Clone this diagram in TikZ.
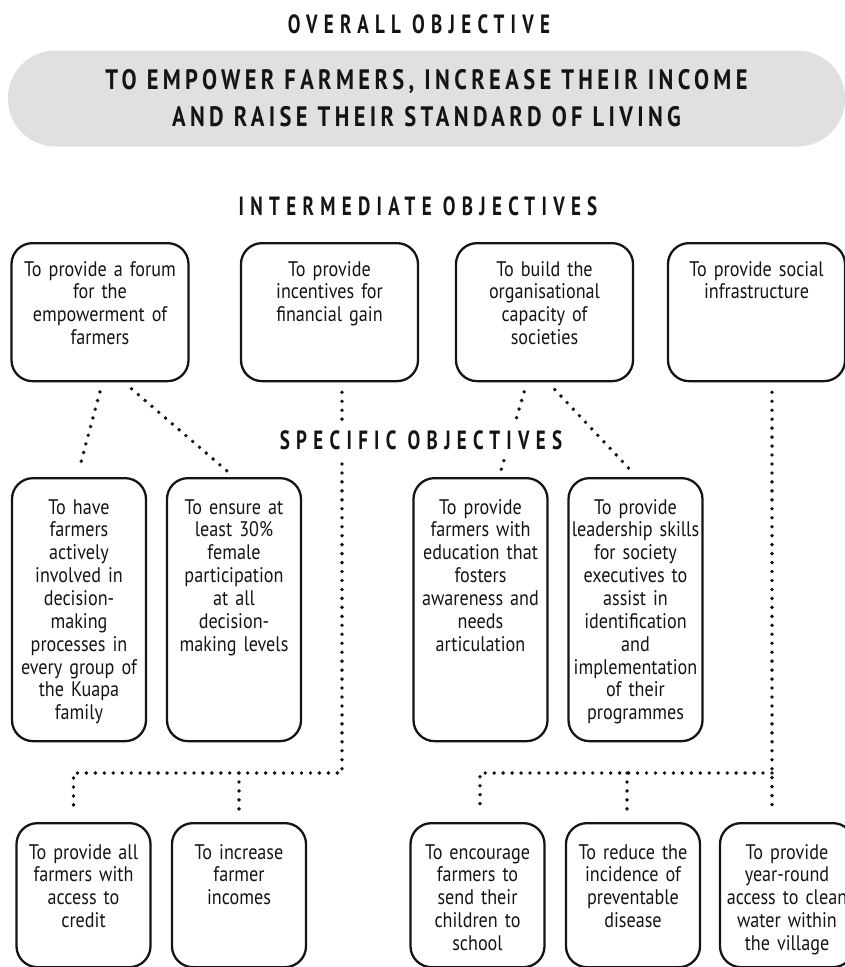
\documentclass[tikz,border=0pt]{standalone}
\usepackage{fontspec}
\setmainfont{PT Sans}[FakeStretch=0.86]
\newfontfamily\headfont{PT Sans}[FakeStretch=0.72,LetterSpace=24]
\newfontfamily\goalfont{PT Sans}[FakeStretch=0.8,LetterSpace=15.5]
\usetikzlibrary{positioning, calc}
\definecolor{bannerGray}{HTML}{E0E0E0}
\definecolor{inkBlack}{HTML}{141414}

\begin{document}
\begin{tikzpicture}[
  every node/.style={font=\fontsize{12}{13}\selectfont, text=inkBlack},
  heading/.style={
    fill=white, inner xsep=2pt, inner ysep=4pt,
    font=\headfont\bfseries\fontsize{15}{17}\selectfont
  },
  banner/.style={
    rectangle, rounded corners=0.95cm,
    minimum width=16.74cm, minimum height=1.92cm,
    fill=bannerGray, align=center,
    font=\goalfont\bfseries\fontsize{16}{21}\selectfont
  },
  objbox/.style={
    rectangle, rounded corners=0.42cm,
    draw=inkBlack, line width=1.3pt,
    anchor=north, align=center,
    inner xsep=1pt, inner ysep=0pt
  },
  widebox/.style={objbox, text width=3.47cm, text height=0.66cm, text depth=2.10cm},
  tallbox/.style={objbox, text width=2.61cm, text height=0.72cm, text depth=4.54cm},
  lowbox/.style={objbox, text width=2.61cm, text height=0.72cm, text depth=2.16cm},
  dotline/.style={
    draw=inkBlack, line width=2.2pt, line cap=round,
    dash pattern=on 0pt off 5.1pt
  },
]
\useasboundingbox (0,0) rectangle (16.9,-19.34);

% === OVERALL OBJECTIVE ===
\node[heading] (overall) at (8.38,-0.48) {OVERALL OBJECTIVE};
\node[banner] (goal) at (8.53,-1.97) {TO EMPOWER FARMERS, INCREASE THEIR INCOME\\AND RAISE THEIR STANDARD OF LIVING};

% === INTERMEDIATE OBJECTIVES ===
\node[heading] (inter) at (8.36,-4.12) {INTERMEDIATE OBJECTIVES};

\node[widebox] (i1) at (2.00,-4.84) {To provide a forum\\for the\\empowerment of\\farmers};
\node[widebox] (i2) at (6.59,-4.84) {To provide\\incentives for\\financial gain};
\node[widebox] (i3) at (10.89,-4.84) {To build the\\organisational\\capacity of\\societies};
\node[widebox] (i4) at (15.13,-4.84) {To provide social\\infrastructure};

% === SPECIFIC OBJECTIVES ===
\node[tallbox] (s1) at (1.58,-9.54) {To have\\farmers\\actively\\involved in\\decision-\\making\\processes in\\every group of\\the Kuapa\\family};
\node[tallbox] (s2) at (4.68,-9.54) {To ensure at\\least 30\%\\female\\participation\\at all\\decision-\\making levels};
\node[tallbox] (s3) at (9.61,-9.54) {To provide\\farmers with\\education that\\fosters\\awareness and\\needs\\articulation};
\node[tallbox] (s4) at (12.71,-9.54) {To provide\\leadership skills\\for society\\executives to\\assist in\\identification\\and\\implementation\\of their\\programmes};

% links from the forum and capacity boxes
\draw[dotline, shorten <=0.2cm, shorten >=0.16cm] ([xshift=0.05cm]i1.south) -- ([xshift=-0.04cm]s1.north);
\draw[dotline, shorten <=0.2cm, shorten >=0.18cm] ([xshift=0.48cm]i1.south) -- (s2.north);
\draw[dotline, shorten <=0.2cm, shorten >=0.14cm] ([xshift=-0.35cm]i3.south) -- ([xshift=0.37cm]s3.north);
\draw[dotline, shorten <=0.2cm, shorten >=0.2cm] ([xshift=0.07cm]i3.south) -- ([xshift=0.03cm]s4.north);

% === BOTTOM ROW ===
\node[lowbox] (b1) at (1.67,-16.44) {To provide all\\farmers with\\access to\\credit};
\node[lowbox] (b2) at (4.78,-16.44) {To increase\\farmer\\incomes};
\node[lowbox] (b3) at (9.55,-16.44) {To encourage\\farmers to\\send their\\children to\\school};
\node[lowbox] (b4) at (12.66,-16.44) {To reduce the\\incidence of\\preventable\\disease};
\node[lowbox] (b5) at (15.74,-16.44) {To provide\\year-round\\access to clean\\water within\\the village};

% financial gain branch
\coordinate (j1) at (6.84,-15.46);
\draw[dotline, shorten <=0.2cm, shorten >=0.2cm] (i2.south -| j1) -- (j1) -| ([xshift=-0.2cm]b1.north);
\draw[dotline, shorten >=0.2cm] (b2.north |- j1) -- (b2.north);

% social infrastructure branch
\coordinate (j2) at (15.44,-15.46);
\draw[dotline, shorten <=0.2cm, shorten >=0.2cm] (i4.south -| j2) -- (b5.north -| j2);
\draw[dotline, shorten >=0.2cm] (j2) -| ([xshift=0.05cm]b3.north);
\draw[dotline, shorten >=0.2cm] ([xshift=-0.12cm]b4.north |- j2) -- ([xshift=-0.12cm]b4.north);

% heading last, so it sits over the dotted links
\node[heading] (spec) at (8.42,-8.8) {SPECIFIC OBJECTIVES};

\end{tikzpicture}
\end{document}
